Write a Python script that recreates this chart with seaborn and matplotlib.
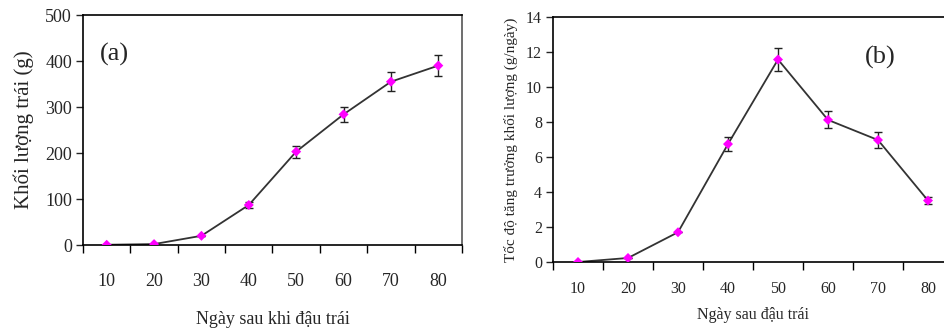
import numpy as np
import pandas as pd
import matplotlib
matplotlib.use("Agg")
import matplotlib.pyplot as plt
import seaborn as sns

days = ["10", "20", "30", "40", "50", "60", "70", "80"]
mass = [0.5, 2, 20, 87, 203, 284, 355, 390]
mass_err = [0, 0, 0, 6, 13, 17, 21, 23]
rate = [0.0, 0.23, 1.70, 6.74, 11.57, 8.12, 6.97, 3.51]
rate_err = [0, 0, 0, 0.40, 0.68, 0.49, 0.44, 0.19]

sns.set_style("ticks")
plt.rcParams['font.family'] = ['Liberation Serif', 'DejaVu Serif']

fig = plt.figure(figsize=(9.45, 3.29), dpi=100)
ax1 = fig.add_axes([83/945, 1-245/329, (462-83)/945, (245-15)/329])
ax2 = fig.add_axes([553/945, 1-262/329, (953-553)/945, (262-17)/329])

line_color = "#333333"
marker_color = "#ff00ff"


def draw(ax, vals, errs, ymax, ystep, tick_fs, xpad):
    df = pd.DataFrame({"pos": np.arange(len(days)), "val": vals, "err": errs})
    sns.lineplot(data=df, x="pos", y="val", ax=ax, color=line_color, lw=1.3, zorder=2)
    ax.errorbar(df["pos"], df["val"], yerr=df["err"], fmt="none", ecolor="#222222",
                elinewidth=1.0, capsize=3, capthick=1.0, zorder=3)
    sns.scatterplot(data=df, x="pos", y="val", ax=ax, color=marker_color, marker="D",
                    s=26, edgecolor="none", zorder=4)
    ax.set_xlim(-0.5, len(days) - 0.5)
    ax.set_ylim(0, ymax)
    ax.set_yticks(np.arange(0, ymax + ystep / 2, ystep))
    ax.set_xticks(np.arange(-0.5, len(days), 1.0))
    ax.set_xticklabels([])
    ax.set_xticks(np.arange(len(days)), minor=True)
    ax.set_xticklabels(days, minor=True)
    ax.tick_params(axis="x", which="major", direction="out", length=6, width=1, color="black")
    ax.tick_params(axis="x", which="minor", length=0, pad=xpad, labelsize=tick_fs)
    ax.tick_params(axis="y", direction="out", length=5, width=1, pad=3, labelsize=tick_fs)
    for s in ax.spines.values():
        s.set_color("black")
        s.set_linewidth(1.2)
    ax.set_xlabel("")
    ax.set_ylabel("")


draw(ax1, mass, mass_err, 500, 100, 13, 20)
ax1.spines["right"].set_color("#555555")
ax1.set_xlabel("Ngày sau khi đậu trái", fontsize=13, labelpad=15)
ax1.set_ylabel("Khối lượng trái (g)", fontsize=15, labelpad=8)
ax1.text(0.045, 0.83, "(a)", transform=ax1.transAxes, fontsize=19, ha="left", va="center")

draw(ax2, rate, rate_err, 14, 2, 11.5, 14)
ax2.set_xlabel("Ngày sau đậu trái", fontsize=11.5, labelpad=7)
ax2.set_ylabel("Tốc độ tăng trưởng khối lượng (g/ngày)", fontsize=11, labelpad=6)
ax2.text(0.78, 0.835, "(b)", transform=ax2.transAxes, fontsize=19, ha="left", va="center")

fig.savefig("out.png", dpi=100)
